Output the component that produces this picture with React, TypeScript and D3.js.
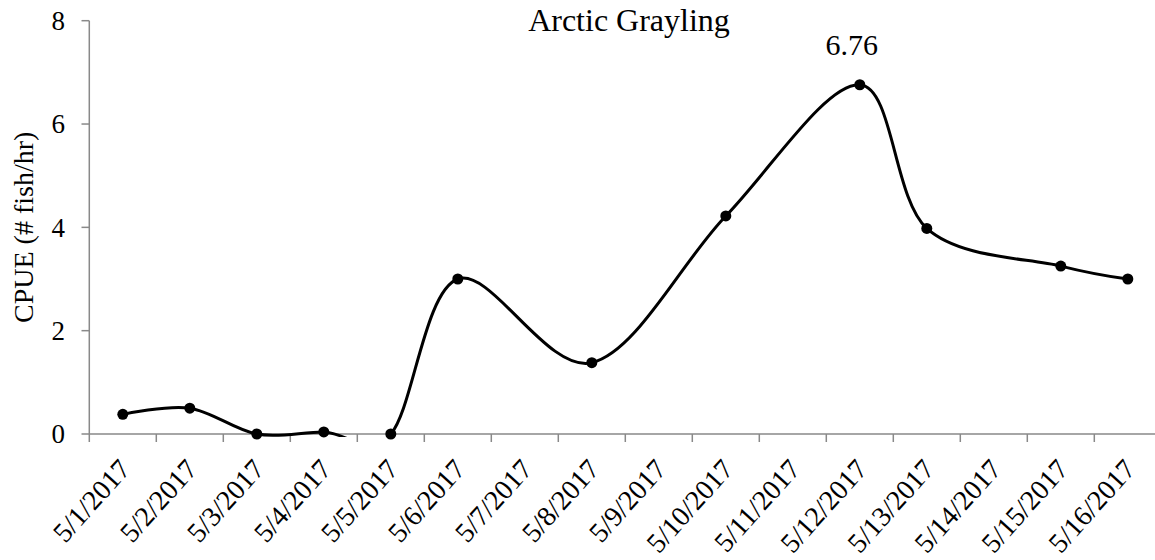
import React from 'react';
import * as d3 from 'd3';

const categories = ['5/1/2017','5/2/2017','5/3/2017','5/4/2017','5/5/2017','5/6/2017','5/7/2017','5/8/2017','5/9/2017','5/10/2017','5/11/2017','5/12/2017','5/13/2017','5/14/2017','5/15/2017','5/16/2017'];
const cpue: (number | null)[] = [0.38, 0.5, 0, 0.04, 0, 3.0, null, 1.38, null, 4.22, null, 6.76, 3.98, null, 3.25, 3.0];
const yTicks = [0, 2, 4, 6, 8];
const title = 'Arctic Grayling';
const yTitle = 'CPUE (# fish/hr)';
const labelIndex = 11;

const W = 1155, H = 560;
const FONT = '"Liberation Serif", "Times New Roman", serif';

export default function App() {
  const x = d3.scaleBand<string>().domain(categories).range([89.3, 1161.3]);
  const y = d3.scaleLinear().domain([0, 8]).range([434, 20.7]);
  const pts = categories
    .map((c, i) => ({ c, v: cpue[i] }))
    .filter((d) => d.v !== null) as { c: string; v: number }[];
  const cx = (c: string) => (x(c) as number) + x.bandwidth() / 2;
  const line = d3.line<{ c: string; v: number }>()
    .x((d) => cx(d.c))
    .y((d) => y(d.v))
    .curve(d3.curveCardinal.tension(0));
  const axisColor = '#898989';
  const bounds = categories.map((c) => x(c) as number).concat([x.range()[1]]);
  return (
    <svg width={W} height={H} style={{ position: 'absolute', left: 0, top: 0, background: '#fff' }} fontFamily={FONT}>
      <defs>
        <clipPath id="plotclip">
          <rect x={89} y={0} width={1100} height={y(0) + 3} />
        </clipPath>
      </defs>
      <text x={629} y={31} textAnchor="middle" fontSize={32}>{title}</text>
      {/* y axis */}
      <line x1={89.3} x2={89.3} y1={y(8)} y2={y(0)} stroke={axisColor} strokeWidth={1.5} />
      {yTicks.map((t) => (
        <g key={t}>
          <line x1={81.5} x2={89.3} y1={y(t)} y2={y(t)} stroke={axisColor} strokeWidth={1.5} />
          <text x={65} y={y(t)} dy="0.34em" textAnchor="end" fontSize={27}>{t}</text>
        </g>
      ))}
      <text transform={`translate(33, ${(y(0) + y(8)) / 2}) rotate(-90)`} textAnchor="middle" fontSize={28}>{yTitle}</text>
      {/* x axis */}
      <line x1={89.3} x2={x.range()[1]} y1={y(0)} y2={y(0)} stroke={axisColor} strokeWidth={1.5} />
      {bounds.map((b, i) => (
        <line key={i} x1={b} x2={b} y1={y(0)} y2={y(0) + 8} stroke={axisColor} strokeWidth={1.5} />
      ))}
      {categories.map((c) => (
        <text key={c} transform={`translate(${cx(c) + 9}, 470) rotate(-48)`} textAnchor="end" fontSize={28}>{c}</text>
      ))}
      {/* series */}
      <path d={line(pts) || ''} fill="none" stroke="#000" strokeWidth={3} clipPath="url(#plotclip)" />
      {pts.map((d) => (
        <circle key={d.c} cx={cx(d.c)} cy={y(d.v)} r={5.5} fill="#000" />
      ))}
      <text x={cx(categories[labelIndex]) - 8} y={55} textAnchor="middle" fontSize={30}>{(cpue[labelIndex] as number).toFixed(2)}</text>
    </svg>
  );
}
